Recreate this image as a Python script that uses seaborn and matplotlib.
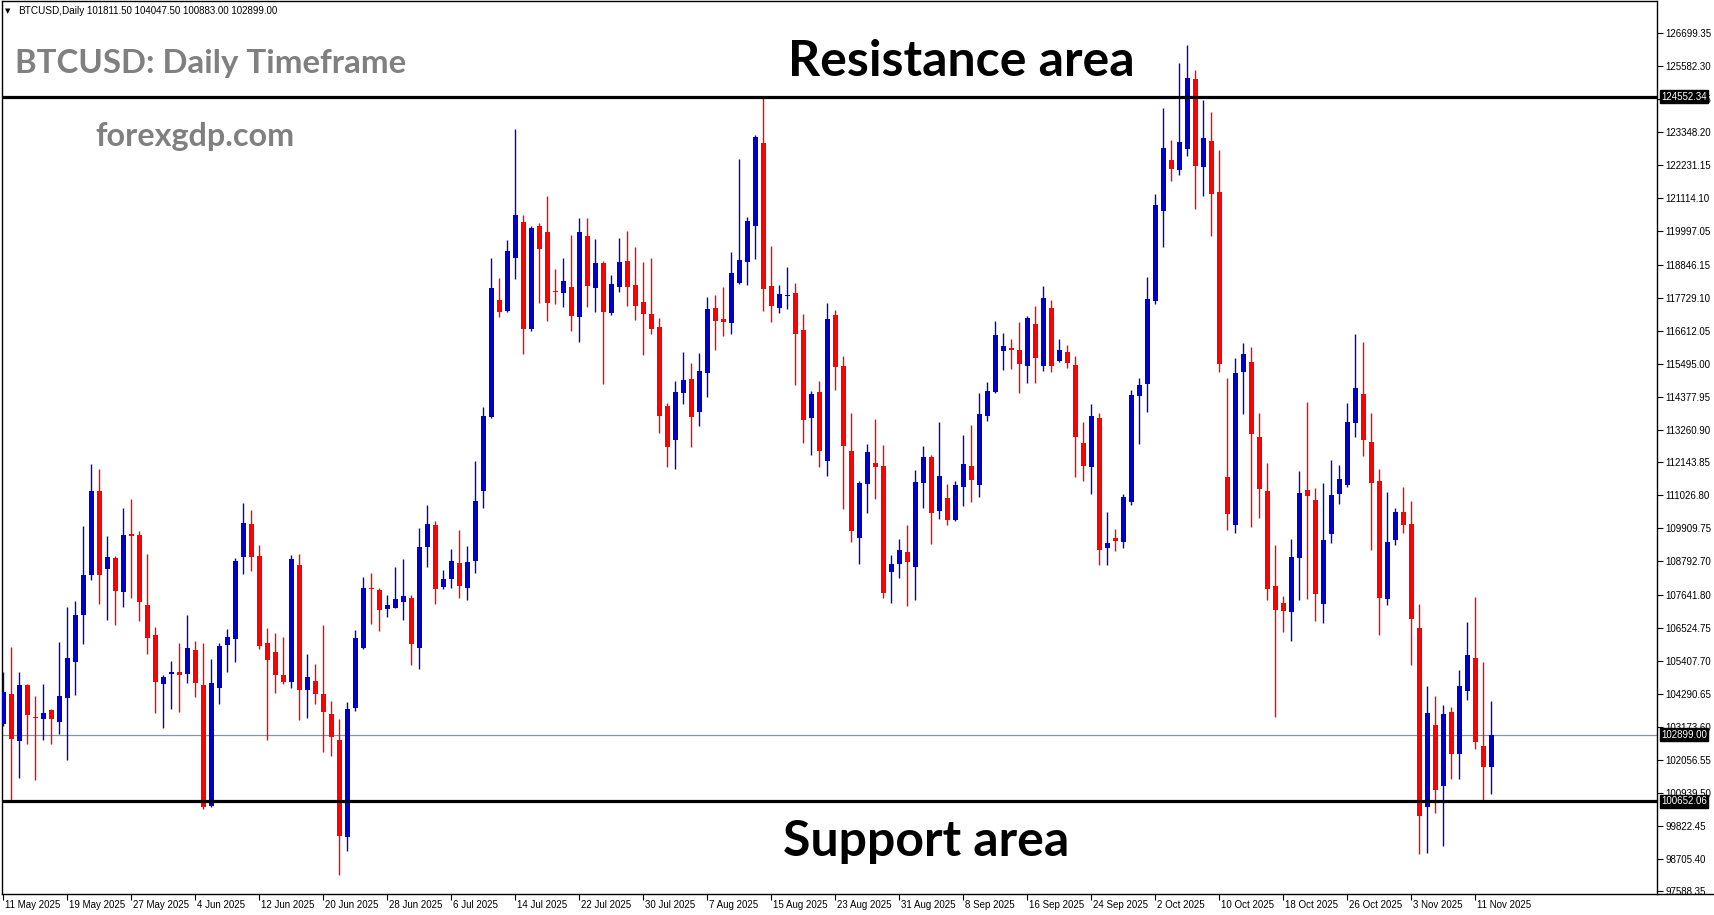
import numpy as np
import pandas as pd
import seaborn as sns
import matplotlib
matplotlib.use("Agg")
import matplotlib.pyplot as plt
from matplotlib.transforms import ScaledTranslation, blended_transform_factory
from matplotlib.lines import Line2D

# ---------------- data (BTCUSD daily, 11 May 2025 .. 13 Nov 2025) ----------------
opens = [103257, 104278, 102695, 104584, 103512, 103444, 103750, 103342, 104142, 105367,
         106984, 108329, 111171, 108516, 108891, 107733, 109707, 109673, 107291, 106286,
         104618, 104959, 105027, 104959, 105793, 104601, 100483, 104482, 105946, 106150,
         108925, 110048, 108976, 106031, 105725, 104925, 104704, 108669, 104414, 104738,
         104295, 103614, 102712, 99427, 103802, 105844, 107886, 107818, 107188, 107223,
         107393, 107546, 105844, 109265, 110014, 107903, 108176, 108720, 107869, 108788,
         111188, 113690, 117673, 117298, 119085, 120311, 116686, 120175, 119970, 117979,
         117894, 118081, 117077, 119834, 118064, 118898, 117213, 118098, 118966, 118149,
         117605, 117196, 116754, 114048, 112890, 114507, 114967, 113860, 115188, 117400,
         117026, 116873, 118234, 118949, 120158, 122983, 118115, 117400, 117792, 117911,
         116652, 113639, 114524, 112192, 117162, 115409, 112533, 109588, 111409, 112124,
         112022, 108431, 108703, 109112, 108601, 111443, 112329, 110490, 110933, 110184,
         111307, 112022, 111375, 113707, 114524, 115920, 116039, 115954, 115409, 116856,
         115409, 117400, 115579, 115886, 115443, 112805, 111988, 113639, 109248, 109588,
         109452, 110797, 114388, 114796, 117639, 120685, 122421, 122081, 122796, 125150,
         122183, 123051, 121332, 111648, 110031, 115205, 115545, 112992, 111171, 107954,
         107376, 107069, 108907, 111205, 110865, 107342, 109724, 111069, 111375, 113469,
         114456, 112839, 111512, 107512, 109520, 110456, 110048, 106525, 100449, 103240,
         101180, 103682, 102236, 104397, 105521, 102508, 101811.5]
highs = [105044, 105895, 105044, 104618, 104227, 104635, 103784, 106065, 107257, 107427,
         109980, 112107, 111937, 109639, 108959, 110593, 110916, 109810, 109044, 106576,
         104925, 105418, 106031, 106967, 106099, 106031, 105486, 106014, 106491, 108907,
         110763, 110524, 109350, 106525, 106355, 106235, 109010, 109044, 105657, 105316,
         106627, 104057, 103444, 104023, 106457, 108261, 108397, 107886, 107648, 108601,
         108873, 107648, 109912, 110695, 110150, 108499, 109214, 109844, 109316, 112192,
         114013, 119068, 118388, 119681, 123460, 120532, 120175, 120277, 121196, 118694,
         119068, 119868, 120447, 120447, 119732, 118966, 118490, 119766, 120005, 119443,
         118932, 119068, 117060, 114150, 114899, 115886, 115511, 115852, 117775, 117843,
         118081, 119273, 122455, 120481, 123255, 124552, 119477, 118149, 118762, 118217,
         117196, 114558, 114916, 117571, 117332, 115750, 113809, 111512, 112771, 113605,
         112737, 109010, 109554, 110014, 111886, 112703, 112397, 113503, 111409, 111512,
         113060, 113401, 114490, 114864, 116958, 116549, 116345, 116924, 117128, 117469,
         118115, 117673, 116345, 116124, 115750, 113503, 114116, 113809, 110456, 109878,
         111069, 114592, 115001, 118422, 121264, 124174, 123085, 125700, 126300, 125450,
         124447, 124038, 122762, 115001, 115681, 116192, 116056, 113809, 112124, 109350,
         107614, 109554, 111852, 114184, 111273, 111443, 112226, 112056, 114150, 116515,
         116226, 113809, 111920, 111137, 110593, 111307, 110831, 107342, 104567, 104227,
         103921, 103853, 105112, 106729, 107580, 105384, 104047.5]
lows = [103206, 100704, 101436, 102576, 101368, 102729, 102593, 102916, 102065, 104244,
        105980, 108142, 107342, 106797, 106627, 107257, 107546, 106780, 105640, 103648,
        103138, 103784, 103682, 104653, 104193, 100380, 100440, 103955, 105044, 105384,
        108363, 108448, 105810, 102712, 104312, 104618, 104499, 103393, 103478, 103938,
        102321, 102185, 98151, 98968, 103716, 105810, 106661, 106440, 106916, 107190,
        106814, 105265, 105129, 108601, 107325, 107835, 107869, 107529, 107461, 108380,
        110609, 113639, 117077, 117264, 118354, 115818, 116618, 117571, 116958, 117537,
        117435, 116618, 116226, 117435, 117264, 114796, 117150, 117945, 117469, 116992,
        115784, 116515, 113128, 111988, 111937, 114116, 112669, 113384, 114354, 115954,
        116447, 116515, 118200, 118149, 119051, 117298, 116924, 117230, 117366, 114779,
        112788, 112397, 111988, 111682, 114592, 110558, 109435, 108703, 110422, 110899,
        107546, 107376, 108227, 107274, 107478, 110593, 109384, 110218, 110014, 110150,
        110661, 110797, 110967, 113537, 114490, 115273, 115307, 114507, 114830, 114830,
        115239, 115205, 115545, 115341, 111648, 111512, 111069, 108669, 108669, 109146,
        109248, 110695, 112771, 113843, 117520, 119443, 121707, 121911, 122541, 120753,
        121196, 119834, 115205, 109844, 109758, 113792, 109946, 110252, 107478, 103512,
        106389, 106099, 107478, 107512, 106763, 106695, 109418, 110729, 111307, 112992,
        112363, 109180, 106286, 107308, 109350, 109758, 105265, 98866, 98900, 100244,
        99138, 101402, 101402, 104091, 102406, 100704, 100883]
closes = [104363, 102746, 104584, 103563, 103461, 103648, 103427, 104227, 105521, 106984,
          108312, 111171, 108329, 108925, 107767, 109673, 109656, 107393, 106184, 104704,
          104874, 105044, 104925, 105861, 104653, 100449, 104670, 105929, 106235, 108805,
          110082, 108925, 105929, 105435, 104925, 104704, 108873, 104414, 104874, 104278,
          103682, 102831, 99461, 103784, 106201, 107886, 107835, 107154, 107308, 107512,
          107614, 105980, 109282, 110048, 107835, 108176, 108788, 107937, 108771, 110831,
          113724, 118047, 117247, 119307, 120549, 116669, 120107, 119392, 117554, 117928,
          118286, 117111, 119970, 118132, 118898, 117247, 118183, 118932, 118098, 117452,
          117179, 116669, 113724, 112652, 114524, 114933, 113690, 115239, 117366, 116941,
          116907, 118558, 119000, 120345, 123187, 118030, 117469, 117877, 117843, 116515,
          113571, 114456, 112533, 117026, 115375, 112703, 109810, 111443, 112499, 111988,
          107716, 108703, 109180, 108771, 111478, 112329, 110422, 111682, 110184, 111375,
          112090, 111546, 113775, 114558, 116481, 116090, 115971, 115477, 117060, 115681,
          117741, 115409, 115954, 115511, 112992, 112022, 113707, 109180, 109418, 109486,
          110967, 114422, 114762, 117707, 120890, 122830, 122115, 123017, 125200, 122217,
          123153, 121264, 115477, 110405, 115171, 115818, 113094, 111239, 107852, 107137,
          107103, 108942, 111103, 111001, 107682, 109520, 111035, 111580, 113503, 114660,
          112907, 111443, 107546, 109452, 110456, 110014, 106831, 100159, 103648, 101044,
          103614, 102236, 104567, 105623, 102644, 101812, 102899]

date_labels = ["11 May 2025", "19 May 2025", "27 May 2025", "4 Jun 2025", "12 Jun 2025",
               "20 Jun 2025", "28 Jun 2025", "6 Jul 2025", "14 Jul 2025", "22 Jul 2025",
               "30 Jul 2025", "7 Aug 2025", "15 Aug 2025", "23 Aug 2025", "31 Aug 2025",
               "8 Sep 2025", "16 Sep 2025", "24 Sep 2025", "2 Oct 2025", "10 Oct 2025",
               "18 Oct 2025", "26 Oct 2025", "3 Nov 2025", "11 Nov 2025"]
date_label_bars = list(range(0, 185, 8))

price_ticks = [126699.35, 125582.30, 124465.25, 123348.20, 122231.15, 121114.10, 119997.05,
               118846.15, 117729.10, 116612.05, 115495.00, 114377.95, 113260.90, 112143.85,
               111026.80, 109909.75, 108792.70, 107641.80, 106524.75, 105407.70, 104290.65,
               103173.60, 102056.55, 100939.50, 99822.45, 98705.40, 97588.35]

resistance = 124552.34
support = 100652.06
last_price = 102899.00
header_symbol = "BTCUSD,Daily"
header_ohlc = "101811.50 104047.50 100883.00 102899.00"

# ---------------- style ----------------
sns.set_theme(style="white")
plt.rcParams['font.family'] = ['Liberation Sans', 'DejaVu Sans']

W, H = 1714, 915
fig = plt.figure(figsize=(W / 100, H / 100), dpi=100)
fig.patch.set_facecolor("white")
ax = fig.add_axes([2 / W, 21 / H, 1655 / W, 893 / H])
ax.set_facecolor("white")

df = pd.DataFrame({"open": opens, "high": highs, "low": lows, "close": closes})
df["bar"] = np.arange(len(df))
bull = df["close"] >= df["open"]
colors = np.where(bull, "#0000CD", "#FF0000")

ax.vlines(df["bar"], df["low"], df["high"], colors=colors, linewidth=1.0, zorder=2)
body_bottom = np.minimum(df["open"], df["close"])
body_height = np.maximum(np.abs(df["close"] - df["open"]), 45)
ax.bar(df["bar"], body_height, bottom=body_bottom, width=0.62, color=colors,
       linewidth=0, zorder=3)

# horizontal levels
ax.axhline(resistance, color="black", linewidth=2.3, zorder=4)
ax.axhline(support, color="black", linewidth=2.3, zorder=4)
ax.axhline(last_price, color="#8796a6", linewidth=0.9, zorder=1)

ax.set_xlim(-0.1875, 206.69)
ax.set_ylim(97502, 127802)

# axes / ticks
for s in ax.spines.values():
    s.set_color("black")
    s.set_linewidth(1.0)
    s.set_visible(True)

ax.yaxis.tick_right()
ax.set_yticks(price_ticks)
ax.set_yticklabels([f"{v:.2f}" for v in price_ticks])
ax.tick_params(axis="y", which="major", right=True, left=False, direction="out",
               length=4, width=0.8, pad=2, labelsize=7, colors="black")
ax.set_xticks(date_label_bars)
ax.set_xticklabels(date_labels)
ax.tick_params(axis="x", which="major", bottom=True, direction="out", length=4,
               width=0.8, pad=0.5, labelsize=7, colors="black")
off = ScaledTranslation(2 / 100, 0, fig.dpi_scale_trans)
for lab in ax.get_xticklabels():
    lab.set_horizontalalignment("left")
    lab.set_transform(lab.get_transform() + off)
ax.grid(False)

# bottom axis line continues under the price scale
fig.add_artist(Line2D([1657 / W, 1.0], [21 / H, 21 / H], color="black", lw=1.0,
                      transform=fig.transFigure))

# price boxes on the right scale
bt = blended_transform_factory(ax.transAxes, ax.transData)
for val in (resistance, last_price, support):
    ax.text(1 + 4 / 1655, val, f"{val:.2f}", transform=bt, color="white", fontsize=7,
            ha="left", va="center", clip_on=False, zorder=10,
            bbox=dict(boxstyle="square,pad=0.15", fc="black", ec="black"))

# annotations
fig.text(961 / W, 1 - 76.5 / H, "Resistance area", ha="center", va="baseline",
         fontsize=36, fontweight="bold", family=["Lato", "DejaVu Sans"], color="black")
fig.text(926 / W, 1 - 856 / H, "Support area", ha="center", va="baseline",
         fontsize=36, fontweight="bold", family=["Lato", "DejaVu Sans"], color="black")
fig.text(15 / W, 1 - 72.5 / H, "BTCUSD: Daily Timeframe", ha="left", va="baseline",
         fontsize=23.8, fontweight="bold", family=["Lato", "DejaVu Sans"], color="#808080")
fig.text(95 / W, 1 - 146.5 / H, "forexgdp.com", ha="left", va="baseline",
         fontsize=23.3, fontweight="bold", family=["Lato", "DejaVu Sans"], color="#808080")

# header line
fig.text(5 / W, 1 - 11 / H, "\u25BC", ha="left", va="center", fontsize=5,
         family=["DejaVu Sans"], color="black")
fig.text(18 / W, 1 - 11 / H, header_symbol, ha="left", va="center", fontsize=7.2,
         color="black")
fig.text(87 / W, 1 - 11 / H, header_ohlc, ha="left", va="center", fontsize=7.0,
         color="black")

fig.savefig("out.png", dpi=100, facecolor="white")
